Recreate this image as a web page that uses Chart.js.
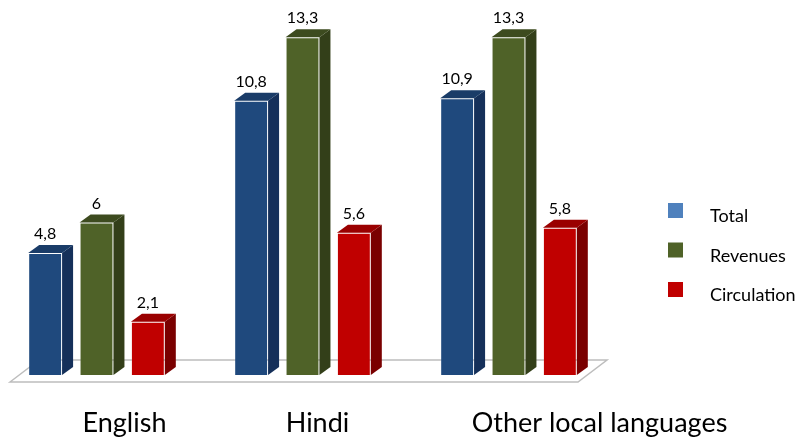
<!DOCTYPE html>
<html>
<head>
<meta charset="utf-8">
<title>Revenue growth by language</title>
<script src="https://cdn.jsdelivr.net/npm/chart.js@4.4.1/dist/chart.umd.min.js"></script>
<style>
  html, body { margin: 0; padding: 0; background: #fff; }
  #wrap { width: 805px; height: 441px; }
</style>
</head>
<body>
<div id="wrap"><canvas id="chart-langues" width="805" height="441"></canvas></div>
<script>
// categories and series
const categories = ['English', 'Hindi', 'Other local languages'];
const totalValues = [4.8, 10.8, 10.9];
const revenueValues = [6, 13.3, 13.3];
const circulationValues = [2.1, 5.6, 5.8];

// colours: front face, top face, side face, legend swatch
const frontColors = ['#1f497d', '#4f6228', '#c00000'];
const topColors = ['#1a3c68', '#3d4b1f', '#9a0000'];
const sideColors = ['#15305a', '#333f19', '#7a0000'];
const legendColors = ['#4f81bd', '#4f6228', '#c00000'];

// depth of the fake 3D extrusion
const DEPTH_X = 11;
const DEPTH_Y = 8;

// nudges for the category captions under the floor
const captionShift = [28, 15, 91];

const fmt = v => String(v).replace('.', ',');

const bars3d = {
  id: 'bars3d',
  beforeDatasetsDraw(chart) {
    // floor plate
    const ctx = chart.ctx;
    const x = chart.scales.x;
    const base = chart.scales.y.getPixelForValue(0);
    const fl = x.left - 86.5, fr = x.right + 69.5, fy = base + 7;
    ctx.save();
    ctx.beginPath();
    ctx.moveTo(fl, fy);
    ctx.lineTo(fl + 29, fy - 22);
    ctx.lineTo(fr + 29, fy - 22);
    ctx.lineTo(fr, fy);
    ctx.closePath();
    ctx.fillStyle = '#ffffff';
    ctx.fill();
    ctx.strokeStyle = '#bdbdbd';
    ctx.lineWidth = 1.5;
    ctx.stroke();
    ctx.restore();
  },
  afterDatasetsDraw(chart) {
    const ctx = chart.ctx;
    ctx.save();
    chart.data.datasets.forEach((ds, di) => {
      const meta = chart.getDatasetMeta(di);
      meta.data.forEach((bar, i) => {
        const L = bar.x - bar.width / 2;
        const R = bar.x + bar.width / 2;
        const top = bar.y, base = bar.base;
        // side
        ctx.beginPath();
        ctx.moveTo(R, top);
        ctx.lineTo(R + DEPTH_X, top - DEPTH_Y);
        ctx.lineTo(R + DEPTH_X, base - DEPTH_Y);
        ctx.lineTo(R, base);
        ctx.closePath();
        ctx.fillStyle = sideColors[di];
        ctx.fill();
        // top
        ctx.beginPath();
        ctx.moveTo(L, top);
        ctx.lineTo(L + DEPTH_X, top - DEPTH_Y);
        ctx.lineTo(R + DEPTH_X, top - DEPTH_Y);
        ctx.lineTo(R, top);
        ctx.closePath();
        ctx.fillStyle = topColors[di];
        ctx.fill();
        // value label
        ctx.fillStyle = '#000';
        ctx.font = '16px Lato';
        ctx.textAlign = 'center';
        ctx.textBaseline = 'alphabetic';
        ctx.fillText(fmt(ds.data[i]), bar.x, top - 14);
      });
    });
    ctx.restore();
  },
  afterDraw(chart) {
    const ctx = chart.ctx;
    const x = chart.scales.x;
    const base = chart.scales.y.getPixelForValue(0);
    ctx.save();
    // category captions
    ctx.fillStyle = '#000';
    ctx.font = '27px Lato';
    ctx.textAlign = 'center';
    ctx.textBaseline = 'alphabetic';
    categories.forEach((c, i) => {
      ctx.fillText(c, x.getPixelForValue(i) + captionShift[i], base + 57);
    });
    // legend
    ctx.font = '18px Lato';
    ctx.textAlign = 'left';
    chart.data.datasets.forEach((ds, di) => {
      const y0 = 203 + di * 39.5;
      ctx.fillStyle = legendColors[di];
      ctx.fillRect(668, y0, 15, 15);
      ctx.fillStyle = '#000';
      ctx.fillText(ds.label, 710, y0 + 19);
    });
    ctx.restore();
  }
};

new Chart(document.getElementById('chart-langues'), {
  type: 'bar',
  data: {
    labels: categories,
    datasets: [
      { label: 'Total', data: totalValues },
      { label: 'Revenues', data: revenueValues },
      { label: 'Circulation', data: circulationValues }
    ].map((d, i) => Object.assign(d, {
      backgroundColor: frontColors[i],
      borderColor: 'rgba(255,255,255,0.15)',
      borderWidth: 1,
      clip: false
    }))
  },
  options: {
    responsive: false,
    animation: false,
    layout: { padding: { left: 96.5, right: 296.5, top: 19.4, bottom: 66 } },
    categoryPercentage: 0.748,
    barPercentage: 0.66,
    plugins: { legend: { display: false }, tooltip: { enabled: false } },
    scales: {
      x: { offset: false, display: false, grid: { display: false } },
      y: { min: 0, max: 14, display: false, grid: { display: false } }
    }
  },
  plugins: [bars3d]
});
</script>
</body>
</html>
